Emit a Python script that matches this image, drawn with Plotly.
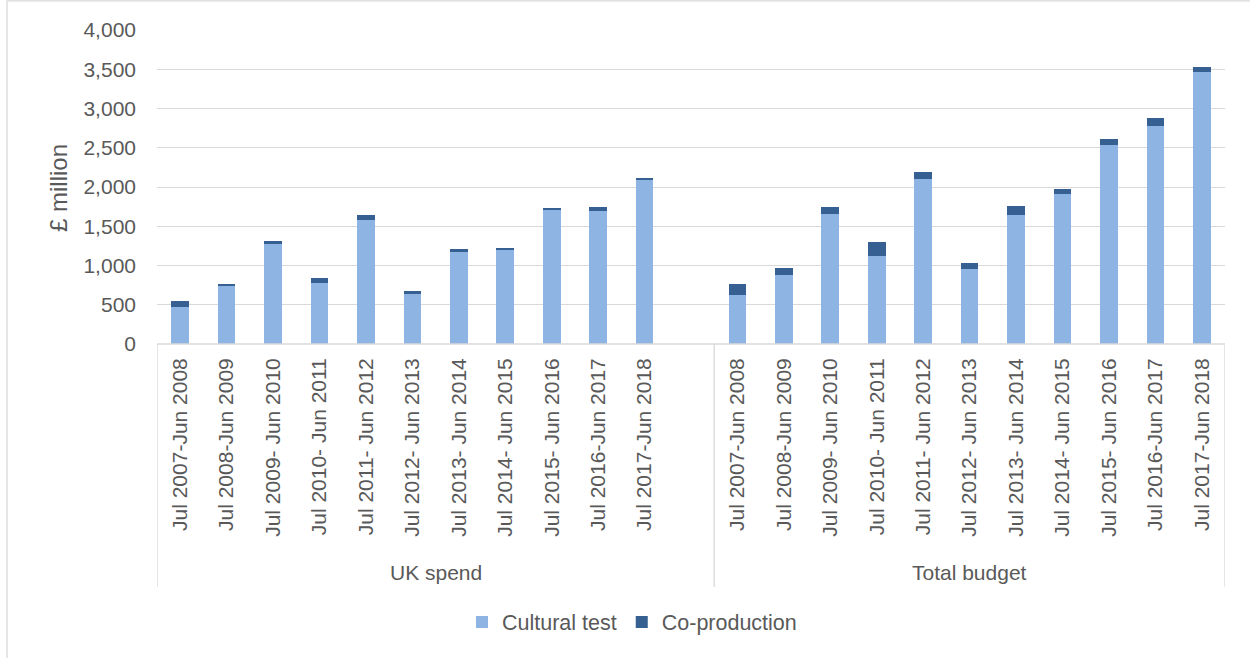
import plotly.graph_objects as go

periods = ["Jul 2007-Jun 2008", "Jul 2008-Jun 2009", "Jul 2009- Jun 2010",
           "Jul 2010- Jun 2011", "Jul 2011- Jun 2012", "Jul 2012- Jun 2013",
           "Jul 2013- Jun 2014", "Jul 2014- Jun 2015", "Jul 2015- Jun 2016",
           "Jul 2016-Jun 2017", "Jul 2017-Jun 2018"]
groups = ["UK spend", "Total budget"]

uk_cultural = [467, 739, 1274, 773, 1585, 633, 1172, 1198, 1703, 1695, 2090]
uk_coprod = [77, 30, 34, 68, 55, 38, 39, 17, 26, 47, 21]
tb_cultural = [624, 875, 1661, 1117, 2103, 956, 1648, 1907, 2532, 2774, 3466]
tb_coprod = [136, 89, 81, 179, 93, 72, 115, 73, 85, 106, 60]

y_ticks = [0, 500, 1000, 1500, 2000, 2500, 3000, 3500, 4000]

C_CULT = "#8EB4E3"
C_COPR = "#376092"
GRID = "#D9D9D9"
TXT = "#595959"
FONT = "Liberation Sans"

n = len(periods)
x_uk = list(range(n))
x_tb = [n + 1 + i for i in range(n)]
x_all = x_uk + x_tb
cult_all = uk_cultural + tb_cultural
copr_all = uk_coprod + tb_coprod

fig = go.Figure()
fig.add_trace(go.Bar(x=x_all, y=cult_all, name="Cultural test",
                     marker=dict(color=C_CULT, line=dict(width=0)), width=0.38))
fig.add_trace(go.Bar(x=x_all, y=copr_all, name="Co-production",
                     marker=dict(color=C_COPR, line=dict(width=0)), width=0.38))

# plot area pixel geometry
L, R, T, B = 157, 25, 30, 314
W, H = 1250, 658
pw = W - L - R
ph = H - T - B

def px_x(p):
    return (p - L) / pw

def px_y(p):
    return (H - B - p) / ph

x_min, x_max = -0.5, 2 * n + 0.5
div_positions = [x_min, n + 0.5, x_max]

shapes = []
for xv in div_positions:
    shapes.append(dict(type="line", xref="x", yref="paper", x0=xv, x1=xv,
                       y0=0, y1=px_y(587), line=dict(color=GRID, width=1.3)))
shapes.append(dict(type="line", xref="paper", yref="paper", x0=0, x1=1,
                   y0=0, y1=0, line=dict(color=GRID, width=1.3)))
# outer chart border
shapes.append(dict(type="line", xref="paper", yref="paper", x0=px_x(7), x1=px_x(7),
                   y0=px_y(0.5), y1=px_y(660), line=dict(color=GRID, width=1.3)))
shapes.append(dict(type="line", xref="paper", yref="paper", x0=px_x(7), x1=px_x(1252),
                   y0=px_y(0.8), y1=px_y(0.8), line=dict(color=GRID, width=1.3)))

annotations = [
    dict(x=(x_min + n + 0.5) / 2, y=px_y(572), xref="x", yref="paper",
         text=groups[0], showarrow=False, font=dict(size=21, color=TXT, family=FONT),
         xanchor="center", yanchor="middle"),
    dict(x=(n + 0.5 + x_max) / 2, y=px_y(572), xref="x", yref="paper",
         text=groups[1], showarrow=False, font=dict(size=21, color=TXT, family=FONT),
         xanchor="center", yanchor="middle"),
    dict(x=px_x(58), y=px_y(188), xref="paper", yref="paper", text="£ million",
         textangle=-90, showarrow=False, font=dict(size=24, color=TXT, family=FONT),
         xanchor="center", yanchor="middle"),
]

fig.update_layout(
    barmode="stack",
    width=W, height=H,
    margin=dict(l=L, r=R, t=T, b=B, autoexpand=False),
    paper_bgcolor="white", plot_bgcolor="white",
    font=dict(family=FONT, color=TXT, size=21),
    showlegend=True,
    legend=dict(orientation="h", x=px_x(632), y=px_y(622), xanchor="center",
                yanchor="middle", font=dict(size=21.5, color=TXT, family=FONT),
                traceorder="normal", itemsizing="constant"),
    shapes=shapes,
    annotations=annotations,
    xaxis=dict(range=[x_min, x_max], tickmode="array", tickvals=x_all,
               ticktext=periods + periods, tickangle=-90, showgrid=False,
               zeroline=False, showline=False, ticks="", ticklabelstandoff=9,
               tickfont=dict(size=21, color=TXT, family=FONT)),
    yaxis=dict(range=[0, 4000], tickmode="array", tickvals=y_ticks,
               tickformat=",", showgrid=True, gridcolor=GRID, gridwidth=1.3,
               zeroline=False, showline=False, ticks="", ticklabelstandoff=20,
               tickfont=dict(size=21, color=TXT, family=FONT)),
    bargap=0.6,
)

fig.write_html("out.html")
